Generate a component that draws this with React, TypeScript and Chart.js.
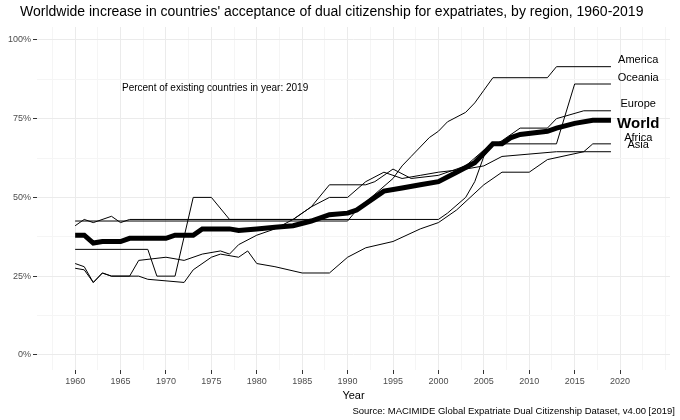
import React, { useEffect, useRef } from "react";
import { Chart, registerables } from "chart.js";
Chart.register(...registerables);

const years = { min: 1955.8, max: 2025.5 };
const xTicks = [1960, 1965, 1970, 1975, 1980, 1985, 1990, 1995, 2000, 2005, 2010, 2015, 2020];
const yTicks = [0, 25, 50, 75, 100];

const world: [number, number][] = [[1960,38],[1961,38],[1962,35.5],[1963,36],[1965,36],[1966,37],[1970,37],[1971,38],[1973,38],[1974,40],[1977,40],[1978,39.5],[1980,40],[1982,40.5],[1984,41],[1986,42.5],[1988,44.5],[1990,45],[1991,46],[1992,48],[1993,50],[1994,52],[1996,53],[1998,54],[2000,55],[2002,58],[2004,61],[2005,64],[2006,67],[2007,67],[2008,69],[2009,70],[2012,71],[2013,72],[2015,73.5],[2017,74.5],[2019,74.5]];
const america: [number, number][] = [[1960,42.5],[1990,42.5],[1991,46],[1993,51],[1995,56],[1996,60],[1997,63],[1998,66],[1999,69],[2000,71],[2001,74],[2003,77],[2004,80],[2005,84],[2006,88],[2012,88],[2013,91.5],[2019,91.5]];
const europe: [number, number][] = [[1960,41],[1961,43],[1962,42],[1964,44],[1965,42],[1966,43],[1984,43],[1986,47],[1988,54],[1992,54],[1993,55],[1995,59],[1997,56],[2000,57],[2003,60],[2005,65],[2007,68],[2009,72],[2012,72],[2013,75],[2016,77.5],[2019,77.5]];
const oceania: [number, number][] = [[1960,33.5],[1968,33.5],[1969,25],[1971,25],[1973,50],[1975,50],[1977,43],[2000,43],[2001,45],[2003,50],[2004,55],[2005,63],[2006,67],[2013,67],[2015,86],[2019,86]];
const asia: [number, number][] = [[1960,29],[1961,28],[1962,23],[1963,26],[1964,25],[1966,25],[1967,30],[1970,31],[1972,30],[1974,32],[1976,33],[1977,32],[1978,35],[1980,38],[1982,40],[1984,43],[1986,47],[1988,50],[1990,50],[1992,55],[1994,58],[1996,56],[1998,57],[2000,58],[2003,59],[2005,60],[2007,63],[2013,64.5],[2019,64.5]];
const africa: [number, number][] = [[1960,27.5],[1961,27],[1962,23],[1963,26],[1964,25],[1967,25],[1968,24],[1972,23],[1973,27],[1975,31],[1976,32],[1978,31],[1979,33],[1980,29],[1982,28],[1985,26],[1988,26],[1990,31],[1992,34],[1995,36],[1998,40],[2000,42],[2002,46],[2005,54],[2007,58],[2010,58],[2012,62],[2016,64.5],[2017,67],[2019,67]];

const labels = [
  { t: "America", y: 93.5, bold: false },
  { t: "Oceania", y: 87.8, bold: false },
  { t: "Europe", y: 79.7, bold: false },
  { t: "World", y: 73.3, bold: true },
  { t: "Africa", y: 68.9, bold: false },
  { t: "Asia", y: 66.7, bold: false },
];

const FONT = "Arial, 'Liberation Sans', sans-serif";

export default function App() {
  const ref = useRef<HTMLCanvasElement>(null);
  useEffect(() => {
    const toPts = (a: [number, number][]) => a.map(([x, y]) => ({ x, y }));
    const ds = (d: [number, number][], w: number) => ({
      data: toPts(d), borderColor: "#000", borderWidth: w, pointRadius: 0, tension: 0, fill: false,
    });
    const minorX: number[] = [];
    for (let v = 1957.5; v <= 2025; v += 2.5) minorX.push(v);
    const minorY: number[] = [];
    for (let v = 0; v <= 100; v += 12.5) minorY.push(v);
    const overlay = {
      id: "overlay",
      afterDraw(c: any) {
        const ctx = c.ctx;
        const a = c.chartArea;
        const xs = c.scales.x, ys = c.scales.y;
        ctx.save();
        ctx.fillStyle = "#000";
        ctx.textBaseline = "middle";
        ctx.font = `14px ${FONT}`;
        ctx.textAlign = "left";
        ctx.fillText("Worldwide increase in countries' acceptance of dual citizenship for expatriates, by region, 1960-2019", 20, 12);
        ctx.font = `10px ${FONT}`;
        ctx.fillText("Percent of existing countries in year: 2019", 122, 88);
        for (const l of labels) {
          ctx.font = l.bold ? `bold 15px ${FONT}` : `11px ${FONT}`;
          ctx.textAlign = "center";
          ctx.fillText(l.t, xs.getPixelForValue(2022), ys.getPixelForValue(l.y));
        }
        ctx.font = `11px ${FONT}`;
        ctx.textAlign = "center";
        ctx.fillText("Year", (a.left + a.right) / 2, 396);
        ctx.textAlign = "right";
        ctx.font = `9.5px ${FONT}`;
        ctx.fillText("Source: MACIMIDE Global Expatriate Dual Citizenship Dataset, v4.00 [2019]", 675, 411);
        ctx.restore();
      },
    };
    const chart = new Chart(ref.current!, {
      type: "line",
      data: {
        datasets: [ds(america, 1), ds(europe, 1), ds(oceania, 1), ds(asia, 1), ds(africa, 1), ds(world, 5)] as any,
      },
      options: {
        animation: false, responsive: false, maintainAspectRatio: false,
        layout: { padding: { top: 27, right: 10, left: 0, bottom: 0 } },
        plugins: { legend: { display: false }, tooltip: { enabled: false } },
        scales: {
          x: {
            type: "linear", min: years.min, max: years.max,
            afterBuildTicks: (s: any) => { s.ticks = minorX.map((v) => ({ value: v })); },
            afterFit: (s: any) => { s.height = 50; },
            ticks: {
              autoSkip: false, maxRotation: 0, color: "#4d4d4d", font: { size: 9, family: FONT }, padding: 2,
              callback: (v: any) => (xTicks.includes(Number(v)) ? String(v) : ""),
            },
            grid: {
              color: (c: any) => (xTicks.includes(c.tick?.value) ? "#ebebeb" : "#f5f5f5"),
              tickColor: (c: any) => (xTicks.includes(c.tick?.value) ? "#333" : "rgba(0,0,0,0)"),
              tickLength: 4, drawTicks: true,
            },
            border: { display: false },
          },
          y: {
            type: "linear", min: -4.8, max: 104.1,
            afterBuildTicks: (s: any) => { s.ticks = minorY.map((v) => ({ value: v })); },
            afterFit: (s: any) => { s.width = 37; },
            ticks: {
              autoSkip: false, color: "#4d4d4d", font: { size: 9, family: FONT }, padding: 2,
              callback: (v: any) => (yTicks.includes(Number(v)) ? v + "%" : ""),
            },
            grid: {
              color: (c: any) => (yTicks.includes(c.tick?.value) ? "#ebebeb" : "#f5f5f5"),
              tickColor: (c: any) => (yTicks.includes(c.tick?.value) ? "#333" : "rgba(0,0,0,0)"),
              tickLength: 4,
            },
            border: { display: false },
          },
        },
      },
      plugins: [overlay],
    } as any);
    return () => chart.destroy();
  }, []);
  return (
    <canvas ref={ref} width={680} height={420}
      style={{ position: "absolute", left: 0, top: 0, width: 680, height: 420, background: "#fff" }} />
  );
}
